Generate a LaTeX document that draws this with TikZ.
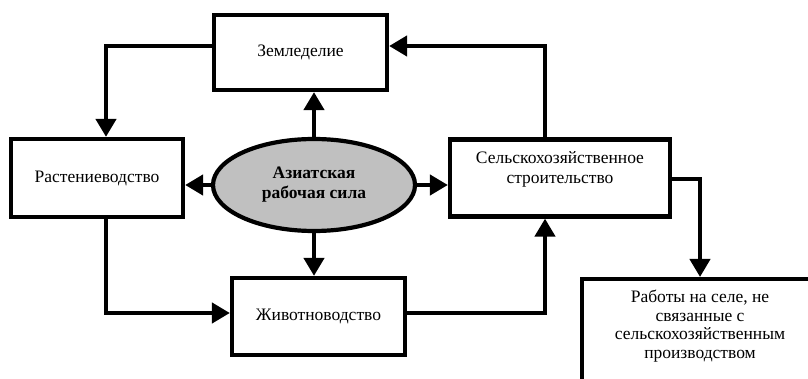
\documentclass[tikz,border=0pt]{standalone}
\usepackage{fontspec}
\setmainfont{Liberation Serif}
\usetikzlibrary{arrows.meta,shapes.geometric}
\begin{document}
\begin{tikzpicture}[x=1pt,y=-1pt,
  box/.style={draw, line width=4.2pt, fill=white, inner sep=0pt, align=center, font=\fontsize{17.5}{20}\selectfont},
  conn/.style={line width=4.2pt, -{Triangle[length=18pt,width=20pt]}}]
\useasboundingbox (0,0) rectangle (808,379);
\clip (0,0) rectangle (808,379);
\node[box, minimum width=173pt, minimum height=75pt] (zem) at (300.5,52.5) {Земледелие};
\node[box, minimum width=172pt, minimum height=78pt] (rast) at (97,178) {Растениеводство};
\node[box, ellipse, fill={rgb,255:red,192;green,192;blue,192}, minimum width=202pt, minimum height=92pt, font=\fontsize{17.5}{20}\selectfont\bfseries] (ell) at (314,185) {Азиатская\\рабочая сила};
\node[box, minimum width=220pt, minimum height=77pt] (sel) at (560,178) {};
\node[font=\fontsize{17.5}{20}\selectfont, align=center, inner sep=0pt] (seltext) at (560,169) {Сельскохозяйственное\\строительство};
\node[box, minimum width=173pt, minimum height=77pt] (zhiv) at (318.5,316.5) {Животноводство};
\node[box, minimum width=240pt, minimum height=140pt, anchor=north west] (rab) at (580,277) {};
\node[font=\fontsize{17.5}{18.5}\selectfont, align=center, inner sep=0pt] (rabtext) at (700,326) {Работы на селе, не\\связанные с\\сельскохозяйственным\\производством};
\coordinate (c1) at (106,46);
\coordinate (c2) at (106,313);
\coordinate (c3) at (545,313);
\coordinate (c4) at (545,46);
\coordinate (c5) at (700,179);
% connectors
\draw[conn] (zem.west |- c1) -- (c1) -- (c1 |- rast.north);
\draw[conn] (ell.north) -- (ell.north |- zem.south);
\draw[conn] (ell.south) -- (ell.south |- zhiv.north);
\draw[conn] (ell.west) -- (ell.west -| rast.east);
\draw[conn] (ell.east) -- (ell.east -| sel.west);
\draw[conn] (rast.south -| c2) -- (c2) -- (c2 -| zhiv.west);
\draw[conn] (zhiv.east |- c3) -- (c3) -- (c3 |- sel.south);
\draw[conn] (sel.north -| c4) -- (c4) -- (c4 -| zem.east);
\draw[conn] (sel.east |- c5) -- (c5) -- (c5 |- rab.north);
\end{tikzpicture}
\end{document}
